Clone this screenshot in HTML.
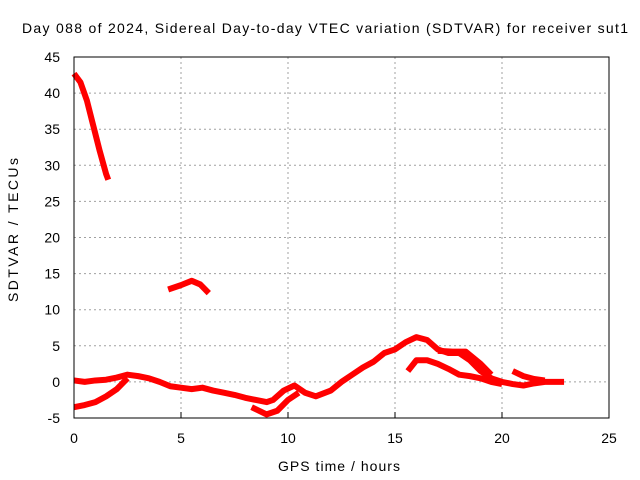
<!DOCTYPE html>
<html><head><meta charset="utf-8"><style>
body{margin:0;background:#fff}
svg{display:block;font-family:"Liberation Sans",sans-serif}
</style></head><body>
<svg id="chart" width="640" height="480" viewBox="0 0 640 480">
<text x="325" y="33" font-size="14" text-anchor="middle" textLength="606" lengthAdjust="spacing">Day 088 of 2024, Sidereal Day-to-day VTEC variation (SDTVAR) for receiver sut1</text>
<g id="grid"></g><g id="series"></g><g id="axes"></g>
<text x="339" y="471" font-size="14" text-anchor="middle" textLength="122" lengthAdjust="spacing">GPS time / hours</text>
<text transform="translate(18,230) rotate(-90)" font-size="14" text-anchor="middle" textLength="144" lengthAdjust="spacing">SDTVAR / TECUs</text>
</svg>
<script>
const xTicks=[0,5,10,15,20,25];
const yTicks=[-5,0,5,10,15,20,25,30,35,40,45];
const segA_t=[0,0.3,0.6,0.9,1.2,1.5,1.6];
const segA_v=[42.7,41.5,39,35.5,32,28.8,28];
const segB_t=[4.4,5,5.5,5.9,6.3];
const segB_v=[12.8,13.4,14,13.5,12.3];
const segC_t=[0,0.5,1,1.5,2,2.5,3,3.5,4,4.5,5,5.5,6,6.5,7,7.5,8,8.5,9,9.3,9.8,10.3,10.8,11.3,12,12.5,13,13.5,14,14.5,15,15.5,16,16.5,17,17.5,18,18.5,19,19.5,20,20.5,21,21.5,22,22.5,22.9];
const segC_v=[0.2,0,0.2,0.3,0.6,1,0.8,0.5,0,-0.6,-0.8,-1,-0.8,-1.2,-1.5,-1.8,-2.2,-2.5,-2.8,-2.5,-1.2,-0.5,-1.5,-2,-1.2,0,1,2,2.8,4,4.5,5.5,6.2,5.8,4.5,4,4,3,1.5,0.5,0,-0.3,-0.5,-0.2,0,0,0];
const segD_t=[0,0.5,1,1.5,2,2.5];
const segD_v=[-3.5,-3.2,-2.8,-2,-1,0.5];
const segE_t=[8.3,9,9.5,10,10.5];
const segE_v=[-3.5,-4.5,-4,-2.5,-1.5];
const segF_t=[15.6,16,16.5,17,17.5,18,18.5,19,19.5,20];
const segF_v=[1.5,3,3,2.5,1.8,1,0.8,0.5,0,-0.3];
const segG_t=[17,17.7,18.3,19,19.5];
const segG_v=[4.3,4.2,4.2,2.5,1];
const segH_t=[20.5,21,21.5,22];
const segH_v=[1.5,0.8,0.4,0.2];
const X=t=>74+t*(609-74)/25, Y=v=>418-(v+5)*(418-57)/50;
const ns="http://www.w3.org/2000/svg";
const mk=(tag,a,p)=>{const e=document.createElementNS(ns,tag);for(const k in a)e.setAttribute(k,a[k]);p.appendChild(e);return e;};
const grid=document.getElementById('grid'),axes=document.getElementById('axes'),ser=document.getElementById('series');
xTicks.forEach(t=>{
 if(t>0&&t<25){const l=mk('line',{x1:X(t),x2:X(t),y1:57,y2:418,stroke:'#a0a0a0','stroke-dasharray':'2,3'},grid);
 
 }
 const tk=mk('line',{x1:X(t),x2:X(t),y1:418,y2:412,stroke:'#000'},axes);
 
 
 const tx=mk('text',{x:X(t),y:443,'font-size':14,'text-anchor':'middle'},axes);tx.textContent=t;
 
 
});
yTicks.forEach(v=>{
 if(v>-5&&v<45){const l=mk('line',{x1:74,x2:609,y1:Y(v),y2:Y(v),stroke:'#a0a0a0','stroke-dasharray':'2,3'},grid);
 
 }
 const tx=mk('text',{x:60,y:Y(v)+5,'font-size':14,'text-anchor':'end'},axes);tx.textContent=v;
 
 
});
const fr=mk('rect',{x:74,y:57,width:535,height:361,fill:'none',stroke:'#000'},axes);


[[segA_t,segA_v],[segB_t,segB_v],[segC_t,segC_v],[segD_t,segD_v],[segE_t,segE_v],[segF_t,segF_v],[segG_t,segG_v],[segH_t,segH_v]].forEach(([ts,vs])=>{
 const p=mk('polyline',{points:ts.map((t,i)=>X(t)+','+Y(vs[i])).join(' '),fill:'none',stroke:'#f00','stroke-width':6,'stroke-linejoin':'round'},ser);
 
 
});
</script>
</body></html>
